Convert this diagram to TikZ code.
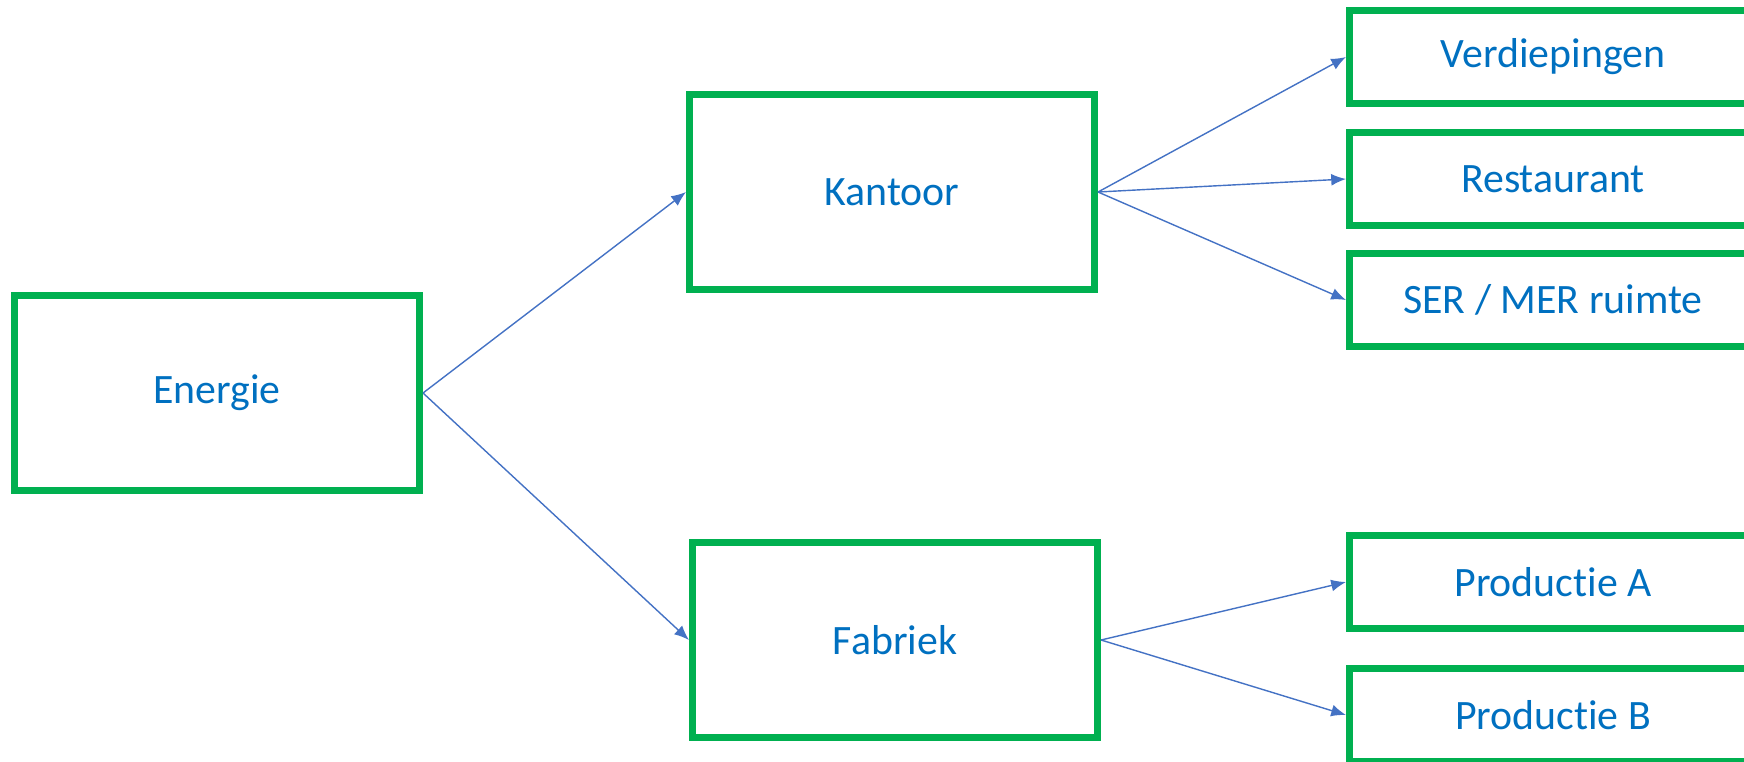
\documentclass[tikz,border=0pt]{standalone}
\usepackage{fontspec}
\setmainfont{Carlito}[Ligatures=NoCommon]
\usepackage{xcolor}
\usepackage{tikz}
\usetikzlibrary{positioning,arrows.meta}

\definecolor{boxgreen}{HTML}{00B050}
\definecolor{textblue}{HTML}{0070C0}
\definecolor{arrowblue}{HTML}{4472C4}

\begin{document}
\begin{tikzpicture}[
    bigbox/.style={draw=boxgreen, line width=2pt, minimum width=4.05cm, minimum height=1.95cm,
        text=textblue, font=\fontsize{11.9}{14}\selectfont},
    smallbox/.style={draw=boxgreen, line width=2pt, minimum width=4.07cm, minimum height=0.93cm,
        text=textblue, font=\fontsize{11.9}{14}\selectfont},
    link/.style={draw=arrowblue, line width=0.4pt, -{Latex[length=4.2pt,width=3.4pt]}}
]
    \useasboundingbox (0,0) rectangle (17.44,7.61);
    \clip (0,0) rectangle (17.44,7.61);

    % Main boxes
    \node[bigbox] (energie) at (2.17, 3.68) {Energie};
    \node[bigbox] (kantoor) at (8.92, 5.69) {Kantoor};
    \node[bigbox] (fabriek) at (8.95, 1.21) {Fabriek};

    % Sub boxes (cut off at the right)
    \node[smallbox] (verdiepingen) at (15.53, 7.04) {Verdiepingen};
    \node[smallbox] (restaurant) at (15.53, 5.82) {Restaurant};
    \node[smallbox] (ser) at (15.53, 4.61) {SER / MER ruimte};
    \node[smallbox] (prodA) at (15.53, 1.79) {Productie A};
    \node[smallbox] (prodB) at (15.53, 0.46) {Productie B};

    % Connectors
    \draw[link] (energie.east) -- (kantoor.west);
    \draw[link] (energie.east) -- (fabriek.west);
    \foreach \t in {verdiepingen, restaurant, ser} {
        \draw[link] (kantoor.east) -- (\t.west);
    }
    \foreach \t in {prodA, prodB} {
        \draw[link] (fabriek.east) -- (\t.west);
    }
\end{tikzpicture}
\end{document}
